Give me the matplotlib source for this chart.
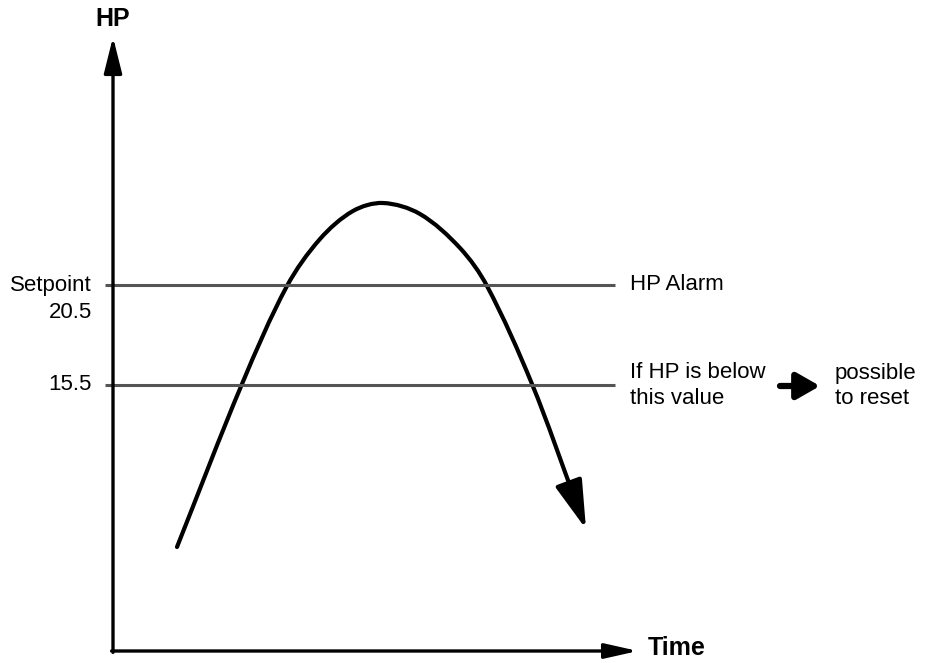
import matplotlib.pyplot as plt
import numpy as np
from matplotlib.path import Path
from matplotlib.patches import PathPatch

plt.rcParams['font.family'] = ['Liberation Sans', 'DejaVu Sans']

# threshold levels (HP)
setpoint = 20.5
reset_level = 15.5

# pressure curve read as (time, HP)
curve_t = [3.2, 6.45, 8.7, 10.35, 12.0, 13.5, 15.35, 17.35, 18.7, 20.95, 23.65]
curve_hp = [7.4, 15.55, 20.45, 22.8, 24.2, 24.6, 24.05, 22.35, 20.45, 15.55, 8.3]

# axis extents
t_origin = 0.0
hp_origin = 2.2
t_end = 26.25
hp_end = 32.9
line_start = -0.4
line_end = 25.1


def smooth_path(xs, ys):
    # cubic bezier through every point, tangents scaled by chord length
    pts = np.column_stack([xs, ys]).astype(float)
    n = len(pts)
    d = np.linalg.norm(np.diff(pts, axis=0), axis=1)
    tang = np.zeros_like(pts)
    tang[0] = (pts[1] - pts[0]) / d[0]
    tang[-1] = (pts[-1] - pts[-2]) / d[-1]
    for i in range(1, n - 1):
        tang[i] = (pts[i + 1] - pts[i - 1]) / (d[i - 1] + d[i])
    verts = [pts[0]]
    codes = [Path.MOVETO]
    for i in range(n - 1):
        c1 = pts[i] + tang[i] * d[i] / 3
        c2 = pts[i + 1] - tang[i + 1] * d[i] / 3
        verts += [c1, c2, pts[i + 1]]
        codes += [Path.CURVE4] * 3
    return Path(verts, codes)


fig = plt.figure(figsize=(9.29, 6.63), dpi=100)
ax = fig.add_axes([0, 0, 1, 1])
ax.set_xlim(-5.65, 40.8)
ax.set_ylim(1.6, 34.75)
ax.axis('off')

# axes with arrow heads
ax.annotate('', xy=(t_origin, hp_end), xytext=(t_origin, hp_origin - 0.07),
            arrowprops=dict(arrowstyle='-|>,head_length=2.2,head_width=0.55',
                            lw=2.4, color='black', shrinkA=0, shrinkB=0))
ax.annotate('', xy=(t_end, hp_origin), xytext=(t_origin - 0.07, hp_origin),
            arrowprops=dict(arrowstyle='-|>,head_length=2.0,head_width=0.45',
                            lw=2.4, color='black', shrinkA=0, shrinkB=0))

# threshold lines
for lvl in (setpoint, reset_level):
    ax.plot([line_start, line_end], [lvl, lvl], color='#555555', lw=2.2,
            solid_capstyle='butt')

# the HP curve; it stops inside the arrow head drawn on the last stretch
mid_t = curve_t[-2] + 0.82 * (curve_t[-1] - curve_t[-2])
mid_hp = curve_hp[-2] + 0.82 * (curve_hp[-1] - curve_hp[-2])
path = smooth_path(curve_t[:-1] + [mid_t], curve_hp[:-1] + [mid_hp])
ax.add_patch(PathPatch(path, facecolor='none', edgecolor='black', lw=3,
                       capstyle='round', joinstyle='round'))
ax.annotate('', xy=(curve_t[-1], curve_hp[-1]), xytext=(mid_t, mid_hp),
            arrowprops=dict(arrowstyle='-|>,head_length=3.0,head_width=0.85',
                            lw=3, color='black', shrinkA=0, shrinkB=0))

# labels
ax.text(t_origin, 33.8, 'HP', fontsize=18, fontweight='bold',
        ha='center', va='center')
ax.text(26.75, 2.35, 'Time', fontsize=18, fontweight='bold',
        ha='left', va='center')

ax.text(-1.05, setpoint, 'Setpoint', fontsize=16, ha='right', va='center')
ax.text(-1.05, setpoint - 1.35, f'{setpoint}', fontsize=16, ha='right', va='center')
ax.text(-1.05, reset_level, f'{reset_level}', fontsize=16, ha='right', va='center')

ax.text(25.85, setpoint, 'HP Alarm', fontsize=16, ha='left', va='center')
ax.text(25.85, reset_level + 0.6, 'If HP is below', fontsize=16, ha='left', va='center')
ax.text(25.85, reset_level - 0.7, 'this value', fontsize=16, ha='left', va='center')
ax.annotate('', xy=(35.35, reset_level - 0.05), xytext=(33.35, reset_level - 0.05),
            arrowprops=dict(arrowstyle='-|>,head_length=1.4,head_width=0.8',
                            lw=4.5, color='black', shrinkA=0, shrinkB=0))
ax.text(36.1, reset_level + 0.6, 'possible', fontsize=16, ha='left', va='center')
ax.text(36.1, reset_level - 0.7, 'to reset', fontsize=16, ha='left', va='center')

fig.savefig('out.png', dpi=100)
